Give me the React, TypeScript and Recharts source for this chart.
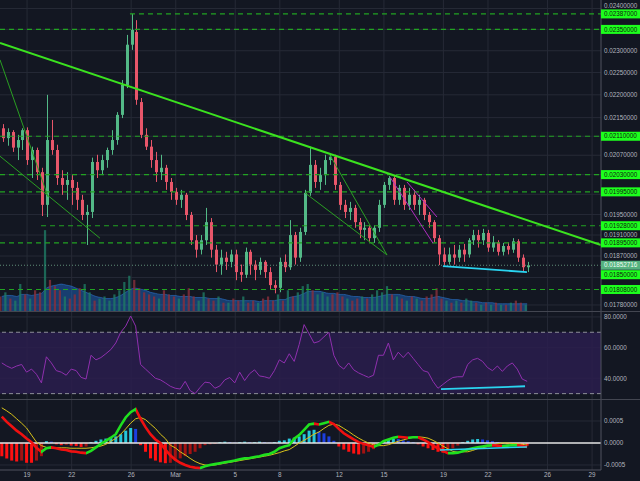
import React from "react";
import {
  ComposedChart,
  Bar,
  Line,
  Area,
  XAxis,
  YAxis,
  CartesianGrid,
  ReferenceLine,
  ReferenceArea,
  Cell,
} from "recharts";

// 8h candles, starting Feb 17 (day numbers counted from Feb 1, Mar 1 = 29)
const startDay = 17.3;
const candleStep = 1 / 3;
const xMin = 17.18;
const xMax = 57.6;

const opens = [
  0.02127, 0.02106, 0.02119, 0.02086, 0.02102, 0.02123, 0.0206, 0.02081, 0.02035, 0.01969,
  0.02102, 0.02081, 0.02023, 0.02009, 0.02019, 0.02003, 0.01979, 0.01949, 0.01955, 0.02056,
  0.02039, 0.0206, 0.02081, 0.02102, 0.02156, 0.02222, 0.02314, 0.02344, 0.02184, 0.02113,
  0.02088, 0.0206, 0.02035, 0.02044, 0.02015, 0.01995, 0.01979, 0.01989, 0.01949, 0.019,
  0.01882, 0.019, 0.01935, 0.01882, 0.01854, 0.01867, 0.01859, 0.01873, 0.0184, 0.01835,
  0.01878, 0.01854, 0.01844, 0.01859, 0.0184, 0.01816, 0.01811, 0.01859, 0.01849, 0.0191,
  0.01867, 0.01916, 0.01993, 0.0205, 0.02015, 0.02029, 0.0206, 0.02067, 0.02009, 0.01969,
  0.01955, 0.01963, 0.01935, 0.0192, 0.01924, 0.01904, 0.01924, 0.01969, 0.02009, 0.02023,
  0.01979, 0.02003, 0.01969, 0.01989, 0.01969, 0.01979, 0.01949, 0.01935, 0.01904, 0.01873,
  0.01859, 0.01873, 0.01867, 0.01882, 0.01873, 0.019, 0.0191, 0.019, 0.01914, 0.01886,
  0.01896, 0.01878, 0.01889, 0.01882, 0.01898, 0.01867, 0.01849,
];
const highs = [
  0.02136, 0.02127, 0.02123, 0.02113, 0.02127, 0.02129, 0.02088, 0.02086, 0.02044, 0.022,
  0.02145, 0.02092, 0.02039, 0.02035, 0.02029, 0.02015, 0.01989, 0.01969, 0.02065, 0.02071,
  0.02071, 0.02086, 0.02123, 0.02162, 0.02233, 0.02337, 0.02387, 0.02372, 0.02193, 0.02127,
  0.02102, 0.02077, 0.02071, 0.0205, 0.02023, 0.02003, 0.01999, 0.01993, 0.01955, 0.0191,
  0.0191, 0.01963, 0.01943, 0.01891, 0.01882, 0.01878, 0.01882, 0.01882, 0.01854, 0.01886,
  0.01882, 0.01862, 0.01867, 0.01862, 0.01849, 0.01825, 0.01867, 0.01873, 0.01939, 0.01916,
  0.01924, 0.01999, 0.02088, 0.0206, 0.02044, 0.02071, 0.02073, 0.02071, 0.02015, 0.01979,
  0.01975, 0.01969, 0.01943, 0.01935, 0.01929, 0.01929, 0.01979, 0.02015, 0.02027, 0.02027,
  0.02009, 0.02009, 0.02003, 0.01999, 0.01989, 0.01983, 0.01955, 0.01939, 0.0191, 0.01886,
  0.01886, 0.01891, 0.01891, 0.01893, 0.01904, 0.0192, 0.0192, 0.01922, 0.0192, 0.01908,
  0.019, 0.01895, 0.01896, 0.01904, 0.01902, 0.01873, 0.01859,
];
const lows = [
  0.02098, 0.0209, 0.02077, 0.0206, 0.02081, 0.0205, 0.02023, 0.02019, 0.01947, 0.01945,
  0.02071, 0.02009, 0.01989, 0.01979, 0.01969, 0.01959, 0.01939, 0.01891, 0.01943, 0.02023,
  0.02029, 0.02044, 0.02071, 0.02092, 0.02149, 0.02215, 0.02302, 0.02178, 0.02106, 0.02081,
  0.02044, 0.02015, 0.02019, 0.01999, 0.01979, 0.01969, 0.01963, 0.01939, 0.01891, 0.01867,
  0.01873, 0.01891, 0.01867, 0.0184, 0.01835, 0.01844, 0.01849, 0.01825, 0.01822, 0.01829,
  0.01835, 0.01825, 0.01835, 0.01829, 0.01807, 0.01801, 0.01803, 0.0184, 0.01844, 0.01854,
  0.01859, 0.0191, 0.01987, 0.02003, 0.01999, 0.02009, 0.0205, 0.01999, 0.01959, 0.01943,
  0.01939, 0.01924, 0.01904, 0.019, 0.01896, 0.01895, 0.01916, 0.01963, 0.01999, 0.01969,
  0.01969, 0.01959, 0.01959, 0.01959, 0.01949, 0.01939, 0.01924, 0.01896, 0.01853, 0.01853,
  0.01854, 0.01854, 0.01859, 0.01859, 0.01867, 0.01891, 0.01886, 0.01891, 0.01878, 0.01878,
  0.01871, 0.01871, 0.01873, 0.01876, 0.01859, 0.0184, 0.0184,
];
const closes = [
  0.02106, 0.02119, 0.02086, 0.02102, 0.02123, 0.0206, 0.02081, 0.02035, 0.01969, 0.02102,
  0.02081, 0.02023, 0.02009, 0.02019, 0.02003, 0.01979, 0.01949, 0.01955, 0.02056, 0.02039,
  0.0206, 0.02081, 0.02102, 0.02156, 0.02222, 0.02314, 0.02349, 0.02189, 0.02113, 0.02088,
  0.0206, 0.02035, 0.02044, 0.02015, 0.01995, 0.01979, 0.01989, 0.01949, 0.019, 0.01882,
  0.019, 0.01935, 0.01882, 0.01854, 0.01867, 0.01859, 0.01873, 0.0184, 0.01835, 0.01878,
  0.01854, 0.01844, 0.01859, 0.0184, 0.01816, 0.01811, 0.01859, 0.01849, 0.0191, 0.01867,
  0.01916, 0.01993, 0.0205, 0.02015, 0.02029, 0.0206, 0.02067, 0.02009, 0.01969, 0.01955,
  0.01963, 0.01935, 0.0192, 0.01924, 0.01904, 0.01924, 0.01969, 0.02009, 0.02023, 0.01979,
  0.02003, 0.01969, 0.01989, 0.01969, 0.01979, 0.01949, 0.01935, 0.01904, 0.01873, 0.01859,
  0.01873, 0.01867, 0.01882, 0.01873, 0.019, 0.0191, 0.019, 0.01914, 0.01886, 0.01896,
  0.01878, 0.01889, 0.01882, 0.01898, 0.01867, 0.01849, 0.018527,
];
const volumes = [
  14, 18, 12, 10, 26, 16, 12, 20, 18, 78,
  30, 24, 20, 14, 12, 16, 22, 26, 18, 10,
  12, 14, 10, 16, 20, 28, 34, 30, 22, 18,
  16, 14, 12, 20, 16, 14, 12, 16, 22, 14,
  10, 18, 12, 10, 14, 8, 8, 12, 10, 14,
  8, 10, 8, 12, 14, 10, 16, 10, 20, 14,
  18, 24, 26, 20, 16, 18, 14, 16, 18, 14,
  12, 10, 12, 14, 12, 16, 20, 18, 24, 16,
  14, 12, 10, 14, 12, 10, 14, 16, 22, 12,
  10, 8, 10, 8, 12, 10, 8, 6, 8, 6,
  8, 6, 6, 8, 10, 8, 6,
];
const volumeMa = [
  14, 15, 15, 14, 16, 16, 15, 16, 17, 22,
  24, 25, 26, 25, 24, 22, 20, 18, 16, 14,
  13, 12, 12, 13, 15, 18, 21, 22, 21, 20,
  18, 17, 16, 16, 15, 15, 14, 14, 14, 13,
  13, 13, 12, 12, 12, 11, 10, 10, 10, 10,
  10, 10, 9, 10, 10, 10, 11, 11, 13, 14,
  15, 17, 19, 19, 19, 18, 17, 17, 16, 16,
  15, 14, 14, 13, 13, 13, 14, 15, 16, 16,
  16, 15, 14, 14, 13, 12, 12, 13, 14, 13,
  12, 11, 11, 10, 10, 9, 9, 8, 8, 8,
  7, 7, 7, 7, 7, 7, 7,
];
const rsiValues = [
  50, 48, 46.5, 48, 49, 44, 46, 42.6, 37, 54,
  50, 45, 44, 42, 46, 45, 40.6, 39.5, 55, 52,
  53.5, 56, 58.7, 63, 70, 74, 80.6, 74, 49, 46,
  43, 40, 39, 37, 34.8, 33.5, 33, 38, 32, 30,
  34, 37.5, 37, 33.5, 35, 39, 40.5, 37, 44, 38.5,
  43, 45.5, 41.5, 41, 40, 45, 52, 50, 56, 51,
  62, 75, 69, 63, 64, 67, 70, 55, 48.5, 46,
  50, 45.5, 43.5, 42, 40.6, 42, 55, 55, 63, 52,
  57, 53.5, 57, 53, 49, 45, 44, 38, 33.5, 36,
  38.5, 40.5, 41, 41, 49, 52, 53, 51, 47, 45,
  48, 44.5, 48, 50, 46, 39.5, 38,
];
const macdValues = [
  0.0006, 0.00048, 0.00038, 0.00028, 0.0002, 0.0001, 0.00002, -0.00011, -0.0002, -0.00012,
  -0.0001, -0.00012, -0.00015, -0.00016, -0.00019, -0.0002, -0.00022, -0.00023, -0.00018, -0.0001,
  -0.00002, 0.00005, 0.00012, 0.0002, 0.0004, 0.00058, 0.0007, 0.00077, 0.00055, 0.00036,
  0.0002, 0.00008, 0, -0.00015, -0.00028, -0.00038, -0.00045, -0.0005, -0.00054, -0.00056,
  -0.00057, -0.00053, -0.0005, -0.00048, -0.00046, -0.00044, -0.00042, -0.0004, -0.00037, -0.00035,
  -0.00034, -0.00032, -0.0003, -0.00027, -0.00025, -0.0002, -0.00012, -0.00008, -0.00005, 0.0001,
  0.00018, 0.0003, 0.00042, 0.00044, 0.00042, 0.00045, 0.00048, 0.00043, 0.00032, 0.00022,
  0.00015, 0.00008, 0.00002, -0.00002, -0.00005, -0.00009, -0.00004, 0.00004, 0.00008, 0.00012,
  0.00014, 0.00013, 0.00012, 0.00013, 0.00013, 0.00008, 0.00002, -0.00006, -0.00012, -0.00018,
  -0.00023, -0.00023, -0.00022, -0.00019, -0.00015, -0.00012, -0.0001, -0.00008, -0.00006, -0.00005,
  -0.00006, -0.00007, -0.00006, -0.00005, -0.00005, -0.00007, -0.00009,
];
const signalValues = [
  0.0008, 0.00073, 0.00065, 0.00055, 0.00045, 0.00034, 0.00018, 0.00002, -0.00006, -0.0001,
  -0.00011, -0.00011, -0.00011, -0.00011, -0.00012, -0.00012, -0.00012, -0.00012, -0.00011, -0.00009,
  -0.00007, -0.00003, 0.00004, 0.0001, 0.0002, 0.00032, 0.00045, 0.00055, 0.00058, 0.00053,
  0.00043, 0.00033, 0.0002, 0.0001, -0.00005, -0.00011, -0.0002, -0.00027, -0.00035, -0.00042,
  -0.00047, -0.0005, -0.00051, -0.0005, -0.00048, -0.00046, -0.00044, -0.00042, -0.0004, -0.00038,
  -0.00036, -0.00034, -0.00032, -0.0003, -0.00028, -0.00025, -0.00022, -0.00018, -0.00015, -0.00008,
  0, 0.00006, 0.00013, 0.0002, 0.00025, 0.00033, 0.0004, 0.00043, 0.0004, 0.00033,
  0.00026, 0.00018, 0.00011, 0.00005, 0, -0.00004, -0.00006, -0.00006, -0.00004, 0,
  0.00004, 0.00007, 0.0001, 0.00013, 0.00014, 0.00013, 0.00011, 0.00006, 0, -0.00007,
  -0.00013, -0.00019, -0.00021, -0.0002, -0.0002, -0.00017, -0.00013, -0.00011, -0.00008, -0.00005,
  -0.00002, 0, 0, -0.00001, -0.00002, -0.00003, -0.00005,
];
const histValues = [
  -0.0003, -0.00035, -0.0004, -0.00042, -0.0004, -0.00045, -0.00045, -0.0004, -0.0003, 0.00004,
  0.00003, -0.00003, -0.00005, -0.00004, -0.00006, -0.00007, -0.00009, -0.00008, 0.00002, 0.00005,
  0.00008, 0.0001, 0.00012, 0.00015, 0.0002, 0.00028, 0.00034, 0.00032, -0.00005, -0.0002,
  -0.00035, -0.0004, -0.00044, -0.00046, -0.00045, -0.0004, -0.00035, -0.0003, -0.00025, -0.0002,
  -0.00012, -0.00005, -0.00003, -0.00002, 0.00002, 0.00003, 0.00002, 0.00001, 0.00002, 0.00003,
  0.00002, 0.00002, 0.00003, 0.00002, 0.00001, 0.00002, 0.00005, 0.00006, 0.0001, 0.00012,
  0.00015, 0.0002, 0.00028, 0.0003, 0.00026, 0.00022, 0.00015, 0.00005, -0.00008, -0.00015,
  -0.0002, -0.00024, -0.00026, -0.00024, -0.0002, -0.00014, -0.00005, 0.00003, 0.00008, 0.0001,
  0.00009, 0.00006, 0.00004, 0.00002, -0.00003, -0.00008, -0.00012, -0.00016, -0.0002, -0.00022,
  -0.00018, -0.00012, -0.00006, 0.00002, 0.00005, 0.00008, 0.00009, 0.00008, 0.00006, 0.00004,
  0.00002, -0.00002, -0.00003, -0.00002, -0.00003, -0.00005, -0.00006,
];

const dateTicks = [19, 22, 26, 29, 33, 36, 40, 43, 47, 50, 54, 57];
const dateLabels = ["19", "22", "26", "Mar", "5", "8", "12", "15", "19", "22", "26", "29"];

const priceTicks = [0.024, 0.023, 0.0225, 0.022, 0.0215, 0.0207, 0.0195, 0.0191, 0.0187, 0.0178];
const priceGrid = [0.024, 0.0235, 0.023, 0.0225, 0.022, 0.0215, 0.0211, 0.0207, 0.0203, 0.0199, 0.0195, 0.0191, 0.0187, 0.0183, 0.0178];
const levelPrices = [0.02387, 0.0235, 0.0211, 0.0203, 0.01995, 0.01928, 0.01895, 0.0185, 0.01808];
const levelStartDays = [25.92, 17.18, 17.18, 17.18, 17.18, 19.94, 17.18, null, 17.18];
const lastPrice = 0.01852716;

const rsiTicks = [80, 60, 40];
const macdTicks = [0.0005, 0, -0.0005];

// hand drawn lines: [day, value] endpoints
const trendMain = [[17.18, 0.02318], [57.6, 0.01891]];
const trendLeftSteep = [[17.18, 0.02279], [20.41, 0.01985]];
const trendLeftLow = [[17.18, 0.02068], [23.9, 0.01904]];
const wedgeLow = [[37.69, 0.01993], [43.21, 0.01872]];
const wedgeHigh = [[39.37, 0.0207], [43.21, 0.01872]];
const channelA = [[43.41, 0.02025], [46.3, 0.018945]];
const channelB = [[44.55, 0.02015], [46.57, 0.01945]];
const supportPrice = [[46.97, 0.01851], [52.62, 0.0184]];
const supportRsi = [[46.84, 32.9], [52.49, 34.8]];
const supportMacd = [[46.77, -0.00016], [52.62, -0.00009]];

const BG = "#131722";
const GRID = "#262a36";
const AXIS = "#50535e";
const TEXT = "#b2b5be";
const UP = "#53b987";
const DOWN = "#e8566a";
const FONT = "'Liberation Sans', Arial, sans-serif";
const FS = 6.3;

const rows = opens.map((o, i) => ({
  t: startDay + i * candleStep,
  open: o,
  high: highs[i],
  low: lows[i],
  close: closes[i],
  range: [lows[i], highs[i]],
  volume: volumes[i],
  volMa: volumeMa[i],
  rsi: rsiValues[i],
  macd: macdValues[i],
  signal: signalValues[i],
  hist: histValues[i],
}));

const Candle = (props: any) => {
  const { x, y, width, height, payload } = props;
  const top = Math.min(y, y + height);
  const bottom = Math.max(y, y + height);
  const span = Math.log(payload.high) - Math.log(payload.low);
  const py = (v: number) =>
    span === 0 ? top : top + ((bottom - top) * (Math.log(payload.high) - Math.log(v))) / span;
  const color = payload.close >= payload.open ? UP : DOWN;
  const yo = py(payload.open);
  const yc = py(payload.close);
  const cx = Math.round(x + width / 2) + 0.5;
  return (
    <g>
      <line x1={cx} x2={cx} y1={top} y2={bottom} stroke={color} strokeWidth={1} />
      <rect x={cx - 1.5} y={Math.min(yo, yc)} width={3} height={Math.max(1, Math.abs(yo - yc))} fill={color} />
    </g>
  );
};

const PriceTick = (props: any) => {
  const { x, y, payload } = props;
  const v = payload.value;
  const isLevel = levelPrices.includes(v);
  const isLast = v === lastPrice;
  // labels pushed apart where they would collide, as on the original axis
  let ny = y;
  if (v === 0.0185) ny = y + 8;
  if (v === 0.024) ny = y - 3;
  let fill = TEXT;
  if (isLevel) fill = "#102010";
  if (isLast) fill = "#f0fff4";
  return (
    <g>
      {(isLevel || isLast) && (
        <rect x={x} y={ny - 4.5} width={39} height={9} fill={isLast ? "#55b27f" : "#1dff1d"} />
      )}
      <text x={x + 3} y={ny} dy="0.35em" fontSize={FS} fill={fill} fontFamily={FONT}>
        {v.toFixed(8)}
      </text>
    </g>
  );
};

const segment = (pts: number[][]) => [
  { x: pts[0][0], y: pts[0][1] },
  { x: pts[1][0], y: pts[1][1] },
];

const PriceChart = () => (
  <ComposedChart width={640} height={311} data={rows} margin={{ top: 0, right: 0, bottom: 0, left: 0 }}>
    <CartesianGrid stroke={GRID} horizontalValues={priceGrid} verticalValues={dateTicks} />
    <XAxis type="number" dataKey="t" domain={[xMin, xMax]} hide allowDataOverflow />
    <YAxis
      orientation="right"
      width={39}
      scale="log"
      domain={[0.017692, 0.024207]}
      allowDataOverflow
      ticks={[...priceTicks, ...levelPrices, lastPrice]}
      interval={0}
      tick={<PriceTick />}
      tickSize={0}
      tickMargin={0}
      tickLine={false}
      axisLine={{ stroke: AXIS }}
    />
    <YAxis yAxisId="v" hide domain={[0, 300]} />
    <Bar yAxisId="v" dataKey="volume" barSize={3} isAnimationActive={false}>
      {rows.map((r, i) => (
        <Cell key={i} fill={r.close >= r.open ? "#1f7a64" : "#8a2f3c"} fillOpacity={0.8} />
      ))}
    </Bar>
    <Area
      yAxisId="v"
      dataKey="volMa"
      type="monotone"
      fill="#1e6fd0"
      fillOpacity={0.45}
      stroke="#2f80e0"
      strokeOpacity={0.5}
      dot={false}
      activeDot={false}
      isAnimationActive={false}
    />
    <Bar dataKey="range" barSize={3} shape={<Candle />} activeBar={false} isAnimationActive={false} />
    {levelPrices.map((p, i) =>
      levelStartDays[i] === null ? null : (
        <ReferenceLine
          key={"lv" + i}
          segment={[{ x: levelStartDays[i], y: p }, { x: xMax, y: p }]}
          stroke="#22a322"
          strokeDasharray="5 4"
          strokeWidth={1.2}
          ifOverflow="visible"
        />
      )
    )}
    <ReferenceLine y={lastPrice} stroke="#5f8f78" strokeDasharray="1 2" />
    <ReferenceLine segment={segment(trendMain)} stroke="#3be21f" strokeWidth={2} ifOverflow="visible" />
    <ReferenceLine segment={segment(trendLeftSteep)} stroke="#2a9f22" strokeWidth={1} ifOverflow="visible" />
    <ReferenceLine segment={segment(trendLeftLow)} stroke="#2a9f22" strokeWidth={1} ifOverflow="visible" />
    <ReferenceLine segment={segment(wedgeLow)} stroke="#2a9f22" strokeWidth={1} ifOverflow="visible" />
    <ReferenceLine segment={segment(wedgeHigh)} stroke="#2a9f22" strokeWidth={1} ifOverflow="visible" />
    <ReferenceLine segment={segment(channelA)} stroke="#b02cc0" strokeWidth={1} ifOverflow="visible" />
    <ReferenceLine segment={segment(channelB)} stroke="#b02cc0" strokeWidth={1} ifOverflow="visible" />
    <ReferenceLine segment={segment(supportPrice)} stroke="#2ad4f0" strokeWidth={1.8} ifOverflow="visible" />
  </ComposedChart>
);

const RsiChart = () => (
  <ComposedChart width={640} height={87} data={rows} margin={{ top: 0, right: 0, bottom: 0, left: 0 }}>
    <CartesianGrid stroke={GRID} horizontalValues={rsiTicks} verticalValues={dateTicks} />
    <XAxis type="number" dataKey="t" domain={[xMin, xMax]} hide allowDataOverflow />
    <YAxis
      orientation="right"
      width={39}
      domain={[26.5, 83.2]}
      allowDataOverflow
      ticks={rsiTicks}
      interval={0}
      tickFormatter={(v: number) => v.toFixed(4)}
      tick={{ fontSize: FS, fill: TEXT, fontFamily: FONT }}
      tickSize={0}
      tickMargin={3}
      tickLine={false}
      axisLine={{ stroke: AXIS }}
    />
    <ReferenceArea y1={30} y2={70} fill="#2a1d4e" fillOpacity={0.85} stroke="none" />
    <ReferenceLine y={70} stroke="#8d8f99" strokeDasharray="4 3" />
    <ReferenceLine y={30} stroke="#8d8f99" strokeDasharray="4 3" />
    <Line dataKey="rsi" stroke="#8f2fae" strokeWidth={1} dot={false} activeDot={false} isAnimationActive={false} />
    <ReferenceLine segment={segment(supportRsi)} stroke="#2ad4f0" strokeWidth={1.8} ifOverflow="visible" />
  </ComposedChart>
);

const macdStops: { off: number; color: string }[] = [];
for (let i = 1; i < rows.length; i++) {
  const color = rows[i].macd >= rows[i - 1].macd ? "#1fe01f" : "#f01010";
  macdStops.push({ off: (rows[i - 1].t - xMin) / (xMax - xMin), color });
  macdStops.push({ off: (rows[i].t - xMin) / (xMax - xMin), color });
}

const histColor = (i: number) => {
  const v = histValues[i];
  const prev = i > 0 ? histValues[i - 1] : v;
  if (v >= 0) return v >= prev ? "#26c6da" : "#1c3fe0";
  return v <= prev ? "#ff1111" : "#a31212";
};

const MacdChart = () => (
  <ComposedChart width={640} height={81} data={rows} margin={{ top: 0, right: 0, bottom: 0, left: 0 }}>
    <defs>
      <linearGradient id="macdStroke" gradientUnits="userSpaceOnUse" x1={0} y1={0} x2={601} y2={0}>
        {macdStops.map((s, i) => (
          <stop key={i} offset={s.off} stopColor={s.color} />
        ))}
      </linearGradient>
    </defs>
    <CartesianGrid stroke={GRID} horizontalValues={[0.0005, -0.0005]} verticalValues={dateTicks} />
    <XAxis
      type="number"
      dataKey="t"
      domain={[xMin, xMax]}
      allowDataOverflow
      ticks={dateTicks}
      interval={0}
      tickFormatter={(v: number) => dateLabels[dateTicks.indexOf(v)]}
      tick={{ fontSize: FS, fill: TEXT, fontFamily: FONT }}
      tickSize={0}
      tickMargin={3}
      tickLine={false}
      axisLine={{ stroke: AXIS }}
      height={11}
    />
    <YAxis
      orientation="right"
      width={39}
      domain={[-0.000614, 0.000977]}
      allowDataOverflow
      ticks={macdTicks}
      interval={0}
      tickFormatter={(v: number) => v.toFixed(4)}
      tick={{ fontSize: FS, fill: TEXT, fontFamily: FONT }}
      tickSize={0}
      tickMargin={3}
      tickLine={false}
      axisLine={{ stroke: AXIS }}
    />
    <Bar dataKey="hist" barSize={3} activeBar={false} isAnimationActive={false}>
      {rows.map((r, i) => (
        <Cell key={i} fill={histColor(i)} />
      ))}
    </Bar>
    <ReferenceLine y={0} stroke="#e6e6e6" strokeWidth={1.5} />
    <Line dataKey="signal" stroke="#d8c21a" strokeWidth={1} dot={false} activeDot={false} isAnimationActive={false} />
    <Line dataKey="macd" stroke="url(#macdStroke)" strokeWidth={2.6} dot={false} activeDot={false} isAnimationActive={false} />
    <ReferenceLine segment={segment(supportMacd)} stroke="#2ad4f0" strokeWidth={1.5} ifOverflow="visible" />
  </ComposedChart>
);

export default function App() {
  return (
    <div
      style={{
        position: "absolute",
        left: 0,
        top: 0,
        width: 640,
        height: 481,
        background: BG,
        overflow: "hidden",
        fontFamily: FONT,
      }}
    >
      <div style={{ position: "absolute", left: 0, top: 0 }}>
        <PriceChart />
      </div>
      <div style={{ position: "absolute", left: 0, top: 311, width: 640, height: 1, background: "#434651" }} />
      <div style={{ position: "absolute", left: 0, top: 312 }}>
        <RsiChart />
      </div>
      <div style={{ position: "absolute", left: 0, top: 399, width: 640, height: 1, background: "#434651" }} />
      <div style={{ position: "absolute", left: 0, top: 400 }}>
        <MacdChart />
      </div>
    </div>
  );
}
